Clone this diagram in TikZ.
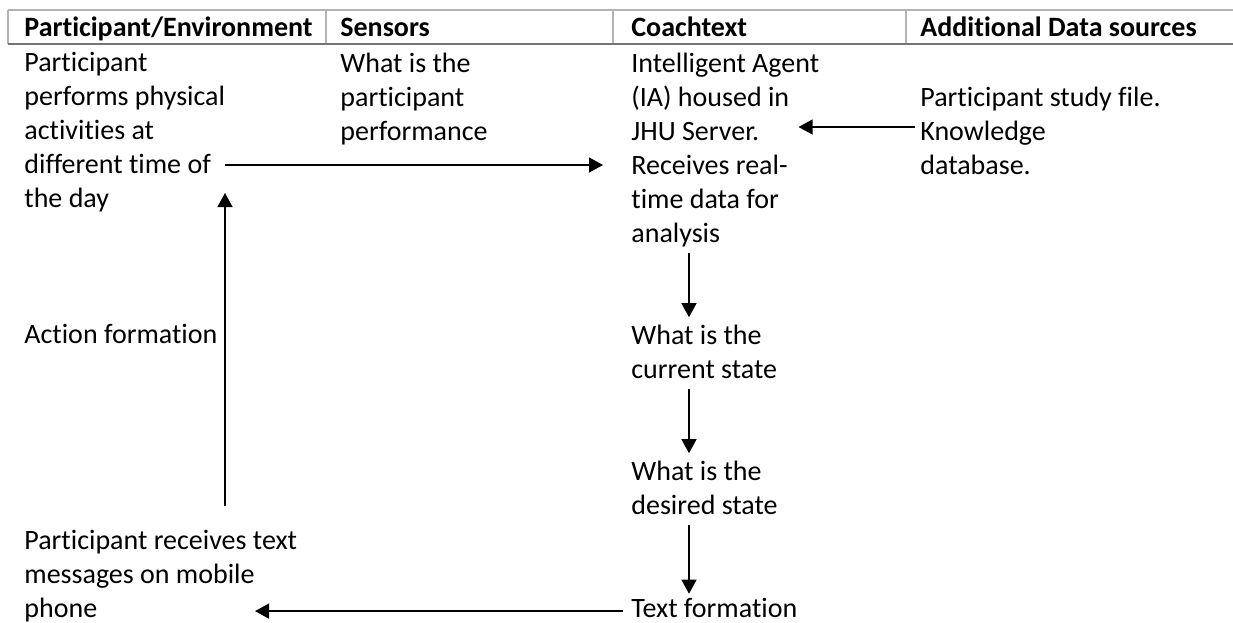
\documentclass[tikz,border=0pt]{standalone}
\usepackage{fontspec}
\setmainfont{Carlito}[Ligatures=NoCommon]
\usetikzlibrary{arrows.meta}

\tikzset{
  cell/.style={anchor=north west,inner sep=0pt,align=left,font=\fontsize{14}{17}\selectfont,
    execute at begin node=\strut,execute at end node=\strut},
  head/.style={cell,font=\fontsize{14}{17}\selectfont\bfseries},
  arr/.style={line width=0.65pt,-{Triangle[length=7pt,width=7.5pt]}},
  rule/.style={draw=black!30,line width=0.8pt}
}

\begin{document}
\begin{tikzpicture}[x=0.5pt,y=-0.5pt]
        \useasboundingbox (0,0) rectangle (1233,622);
        % table head
        \draw[rule] (8,10) -- (1233,10);
        \draw[rule] (8,10) -- (8,44);
        \draw[rule] (326,10) -- (326,44);
        \draw[rule] (613,10) -- (613,44);
        \draw[rule] (906,10) -- (906,44);
        \draw[draw=black!55,line width=1pt] (8,44) -- (1233,44);
        \node[head] (hpart) at (24,12.7) {Participant/Environment};
        \node[head] (hsens) at (340,12.7) {Sensors};
        \node[head] (hcoach) at (631,12.7) {Coachtext};
        \node[head] (hdata) at (920,12.7) {Additional Data sources};
        % cells
        \node[cell] (perf) at (24,52.2) {Participant\\performs physical\\activities at\\different time of\\the day};
        \node[cell] (act) at (24,319.7) {Action formation};
        \node[cell] (recv) at (24,530.2) {Participant receives text\\messages on mobile\\phone};
        \node[cell] (sens) at (340,52.2) {What is the\\participant\\performance};
        \node[cell] (agent) at (631,52.2) {Intelligent Agent\\(IA) housed in\\JHU Server.\\Receives real-\\time data for\\analysis};
        \node[cell] (cur) at (631,324.2) {What is the\\current state};
        \node[cell] (des) at (631,460.2) {What is the\\desired state};
        \node[cell] (txt) at (631,593.7) {Text formation};
        \node[cell] (data) at (920,86.2) {Participant study file.\\Knowledge\\database.};
        % rows and columns of the arrows
        \coordinate (rowk) at (0,127);
        \coordinate (rowd) at (0,165);
        \coordinate (cola) at (225,0);
        \coordinate (colc) at (689,0);
        \coordinate (phone) at (255,607);
        \coordinate (dayup) at (225,193);
        % arrows
        \draw[arr,shorten >=14pt] (perf.east |- rowd) -- (agent.west |- rowd);
        \draw[arr,shorten <=2.5pt,shorten >=-10.5pt] (data.west |- rowk) -- (agent.east |- rowk);
        \draw[arr,shorten <=12pt] (recv.north -| cola) -- (dayup);
        \draw[arr,shorten >=3.5pt] (agent.south -| colc) -- (cur.north -| colc);
        \draw[arr,shorten >=3.5pt] (cur.south -| colc) -- (des.north -| colc);
        \draw[arr] (des.south -| colc) -- (txt.north -| colc);
        \draw[arr,shorten <=4pt] (txt.west) -- (phone |- txt.west);
\end{tikzpicture}
\end{document}
